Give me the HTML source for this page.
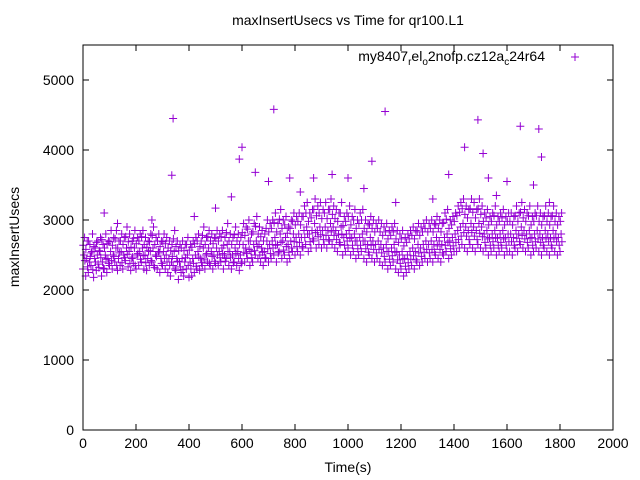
<!DOCTYPE html>
<html><head><meta charset="utf-8"><style>
body{margin:0;background:#fff;}
svg{display:block;font-family:"Liberation Sans",sans-serif;}
</style></head><body>
<svg id="chart" width="640" height="480">
<rect width="640" height="480" fill="#fff"/>
<text x="348" y="25" font-size="14" text-anchor="middle">maxInsertUsecs vs Time for qr100.L1</text>
<text x="348" y="472" font-size="14" text-anchor="middle">Time(s)</text>
<text transform="translate(19,237) rotate(-90)" font-size="14" text-anchor="middle">maxInsertUsecs</text>
<g id="axes"></g>
<g id="marks"></g>
<rect x="83" y="45" width="530" height="385" fill="none" stroke="#000" stroke-width="1"/>
<g>
<text x="545" y="61" font-size="14" text-anchor="end">my8407<tspan font-size="10" dy="4">r</tspan><tspan dy="-4">el</tspan><tspan font-size="10" dy="4">o</tspan><tspan dy="-4">2nofp.cz12a</tspan><tspan font-size="10" dy="4">c</tspan><tspan dy="-4">24r64</tspan></text>
<path d="M571,57h8M575,53v8" stroke="#9400d3" stroke-width="1"/>
</g>
</svg>
<script>
const xTicks=[0,200,400,600,800,1000,1200,1400,1600,1800,2000];
const yTicks=[0,1000,2000,3000,4000,5000];
const tStep=10;
const lowVals=[2300,2200,2250,2350,2180,2280,2320,2200,2300,2250,2350,
2300,2400,2280,2350,2300,2420,2330,2280,2380,2300,
2350,2400,2300,2280,2350,2400,2320,2300,2250,2350,
2300,2250,2200,2350,2280,2150,2250,2200,2300,2180,
2200,2250,2300,2280,2350,2300,2400,2350,2300,2380,
2350,2400,2300,2450,2350,2300,2400,2350,2280,2400,
2400,2450,2350,2400,2500,2450,2400,2350,2450,2400,
2450,2500,2400,2550,2450,2500,2400,2450,2550,2500,
2550,2500,2600,2650,2550,2600,2700,2600,2650,2600,
2650,2600,2700,2650,2600,2550,2650,2500,2550,2600,
2500,2550,2450,2500,2550,2450,2400,2500,2450,2400,
2450,2400,2350,2400,2300,2350,2400,2300,2250,2300,
2200,2250,2300,2350,2300,2400,2350,2400,2450,2400,
2450,2400,2500,2450,2400,2500,2550,2450,2500,2550,
2550,2600,2650,2600,2550,2650,2600,2550,2650,2600,
2550,2600,2500,2550,2600,2500,2550,2600,2500,2550,
2550,2500,2600,2550,2650,2600,2550,2600,2500,2550,
2600,2550,2500,2600,2550,2500,2600,2550,2500,2550];
const lowMidVals=[2420,2330,2480,2290,2400,2370,2460,2310,2440,2380,2420,
2480,2350,2530,2390,2460,2510,2380,2470,2350,2520,
2440,2490,2390,2560,2420,2350,2480,2530,2380,2450,
2400,2350,2480,2300,2410,2330,2290,2460,2350,2300,
2380,2340,2470,2390,2430,2520,2380,2480,2410,2500,
2460,2520,2410,2550,2470,2390,2520,2450,2380,2540,
2520,2580,2460,2560,2620,2500,2540,2460,2590,2520,
2600,2640,2530,2680,2570,2620,2540,2600,2690,2620,
2680,2620,2750,2800,2690,2730,2820,2760,2790,2720,
2780,2720,2830,2780,2720,2680,2790,2640,2700,2740,
2640,2700,2590,2640,2700,2590,2540,2640,2580,2530,
2580,2530,2480,2550,2440,2490,2540,2430,2380,2440,
2340,2390,2440,2490,2430,2530,2480,2540,2580,2530,
2580,2540,2630,2580,2530,2640,2680,2590,2630,2680,
2720,2770,2820,2770,2720,2820,2770,2720,2810,2760,
2680,2730,2640,2690,2740,2640,2680,2730,2640,2690,
2690,2640,2740,2690,2780,2730,2680,2740,2640,2690,
2730,2680,2640,2730,2690,2640,2730,2690,2640,2690];
const midVals=[2500,2450,2400,2550,2450,2500,2550,2400,2500,2450,2550,
2500,2600,2450,2550,2500,2600,2550,2450,2600,2500,
2550,2600,2500,2450,2550,2600,2500,2550,2450,2550,
2500,2450,2400,2550,2450,2400,2450,2400,2500,2400,
2450,2500,2550,2450,2600,2500,2600,2550,2500,2600,
2550,2600,2500,2650,2550,2500,2600,2550,2500,2650,
2600,2700,2550,2650,2700,2650,2600,2550,2700,2650,
2700,2750,2650,2800,2700,2750,2650,2700,2800,2750,
2800,2750,2850,2900,2800,2850,2950,2850,2900,2850,
2900,2850,2950,2900,2850,2800,2900,2750,2800,2850,
2750,2800,2700,2750,2800,2700,2650,2750,2700,2650,
2700,2650,2600,2650,2550,2600,2650,2550,2500,2550,
2450,2500,2550,2600,2550,2650,2600,2650,2700,2650,
2700,2650,2750,2700,2650,2750,2800,2700,2750,2800,
2850,2900,2950,2900,2850,2950,2900,2850,2950,2900,
2800,2850,2750,2800,2850,2750,2800,2850,2750,2800,
2800,2750,2850,2800,2900,2850,2800,2850,2750,2800,
2850,2800,2750,2850,2800,2750,2850,2800,2750,2800];
const midHighVals=[2640,2580,2700,2530,2620,2680,2560,2720,2600,2660,2690,
2640,2730,2600,2700,2650,2760,2690,2610,2740,2660,
2700,2760,2650,2610,2690,2780,2650,2700,2620,2690,
2660,2600,2560,2730,2620,2560,2600,2560,2650,2570,
2610,2660,2700,2620,2780,2650,2760,2700,2660,2740,
2700,2760,2640,2820,2700,2650,2790,2700,2650,2820,
2780,2870,2700,2830,2910,2800,2760,2700,2880,2830,
2880,2960,2830,3010,2880,2930,2810,2880,2980,2930,
2980,2930,3050,3100,2980,3030,3150,3060,3100,3020,
3100,3020,3150,3080,3020,2980,3100,2920,2980,3050,
2930,3000,2880,2950,3000,2880,2830,2930,2880,2830,
2880,2830,2780,2830,2730,2780,2830,2730,2680,2730,
2630,2680,2730,2780,2730,2830,2780,2830,2880,2830,
2880,2830,2930,2880,2830,2960,3010,2880,2930,2980,
3060,3110,3160,3080,3030,3160,3110,3030,3160,3080,
2980,3030,2930,2980,3060,2930,2980,3030,2930,2980,
2980,2930,3060,2980,3110,3030,2980,3060,2930,2980,
3060,2980,2930,3060,2980,2930,3060,2980,2930,2980];
const highVals=[2750,2700,2650,2800,2600,2700,2750,2650,2800,2700,2850,
2750,2850,2700,2800,2750,2900,2800,2700,2850,2750,
2800,2850,2750,2700,2800,2900,2750,2800,2700,2800,
2750,2700,2650,2850,2700,2650,2700,2650,2750,2650,
2700,2750,2800,2700,2900,2750,2850,2800,2750,2850,
2800,2850,2750,2950,2800,2750,2900,2800,2750,2950,
2900,3000,2800,2950,3050,2900,2850,2800,3000,2950,
3000,3100,2950,3150,3000,3050,2900,3000,3100,3050,
3100,3050,3200,3250,3100,3150,3300,3200,3250,3150,
3250,3150,3300,3200,3150,3100,3250,3050,3100,3200,
3050,3150,3000,3100,3150,3000,2950,3050,3000,2950,
3000,2950,2900,2950,2850,2900,2950,2850,2800,2850,
2750,2800,2850,2900,2850,2950,2900,2950,3000,2950,
3000,2950,3050,3000,2950,3100,3150,3000,3050,3100,
3200,3250,3300,3200,3150,3300,3250,3150,3300,3200,
3100,3150,3050,3100,3200,3050,3100,3150,3050,3100,
3100,3050,3200,3100,3250,3150,3100,3200,3050,3100,
3200,3100,3050,3200,3100,3050,3200,3100,3050,3100];
const outlierTimes=[340,335,720,1140,1490,1650,1720,1440,600,590,1730,1510,1090,650,780,870,940,1380,1530,1600,1700,560,500,80,700,1000,130,260,420,820,1060,1180,1320,1560,1760];
const outlierVals=[4450,3640,4580,4550,4430,4340,4300,4040,4040,3870,3900,3950,3840,3680,3600,3600,3650,3650,3600,3550,3500,3330,3170,3100,3550,3600,2950,3000,3050,3400,3450,3250,3300,3350,3250];

const NS="http://www.w3.org/2000/svg";
const xS=v=>83+v*530/2000;
const yS=v=>430-v*350/5000;
const axes=document.getElementById('axes');
const marks=document.getElementById('marks');
function mk(tag,attrs,parent){const e=document.createElementNS(NS,tag);for(const k in attrs)e.setAttribute(k,attrs[k]);parent.appendChild(e);return e;}
xTicks.forEach(t=>{
  const x=xS(t);
  const tk=mk('path',{d:`M${x},430v-6M${x},45v6`,stroke:'#000'},axes);
  
  
  const lb=mk('text',{x:x,y:448,'font-size':14,'text-anchor':'middle'},axes);
  lb.textContent=t;
  
  
});
yTicks.forEach(t=>{
  const y=yS(t);
  const tk=mk('path',{d:`M83,${y}h6M613,${y}h-6`,stroke:'#000'},axes);
  
  
  const lb=mk('text',{x:74,y:y+5,'font-size':14,'text-anchor':'end'},axes);
  lb.textContent=t;
  
  
});
let d='';
function plus(t,v){const x=xS(t),y=yS(v);d+=`M${(x-4).toFixed(1)},${y.toFixed(1)}h8M${x.toFixed(1)},${(y-4).toFixed(1)}v8`;}
lowVals.forEach((v,i)=>plus(i*tStep,v));
lowMidVals.forEach((v,i)=>plus(i*tStep+7,v));
midVals.forEach((v,i)=>plus(i*tStep+4,v));
midHighVals.forEach((v,i)=>plus(i*tStep+1,v));
highVals.forEach((v,i)=>plus(i*tStep+6,v));
outlierTimes.forEach((t,i)=>plus(t,outlierVals[i]));
const p=mk('path',{d:d,stroke:'#9400d3','stroke-width':1,fill:'none'},marks);


</script>
</body></html>
